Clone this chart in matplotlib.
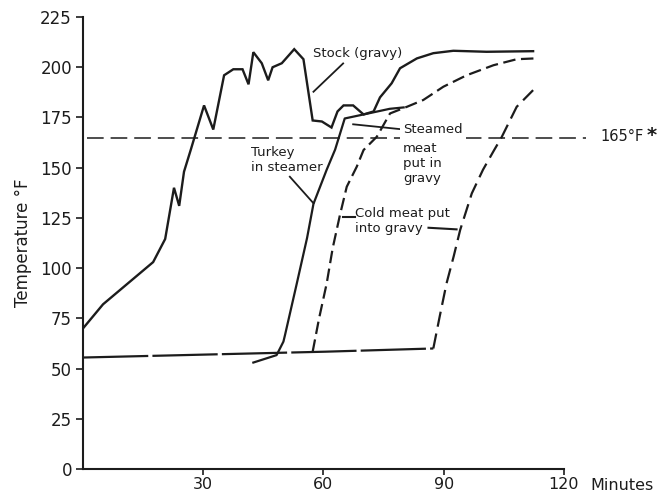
import matplotlib
matplotlib.use('Agg')
import matplotlib.pyplot as plt

plt.rcParams['font.family'] = 'DejaVu Sans'
plt.rcParams['lines.scale_dashes'] = False

INK = '#1c1c1c'

# stock (gravy) temperature, minutes vs deg F
stock_min = [0, 5, 17.5, 20.5, 22.7, 24, 25.2, 26.9, 30.2, 32.5, 35.2, 37.5, 39.8,
             41.3, 42.5, 44.6, 46.2, 47.3, 49.6, 52.7, 55, 57.3, 59.6, 62, 63.5,
             65, 67.4, 70, 72.5, 74.1, 77, 79.1, 83.3, 87.4, 92.4, 100.7, 112.3]
stock_temp = [70, 82, 103, 114.5, 140, 131, 148, 159, 181, 169, 196, 199, 199,
              191.5, 207.5, 202, 193.5, 200, 202, 209, 204, 173.5, 173, 170, 178,
              181, 181, 176.5, 178, 185, 192, 199.5, 204.4, 207, 208.2, 207.7, 208]

# turkey in steamer, then steamed meat in gravy
turkey_min = [42.5, 48.3, 50, 50.4, 53.3, 55.9, 57.5, 60.8, 62.9, 65.3, 70, 76.5, 80]
turkey_temp = [53, 56.7, 63.4, 66.7, 92, 115, 132, 149, 159, 174.5, 176.5, 179.3, 180]

# cold meat waiting
flat_min = [0, 60.4, 87.4]
flat_temp = [55.5, 58.4, 60]

# cold meat put into gravy at ~57 min
cold1_min = [57.3, 58.9, 60.8, 62.3, 64.1, 65.8, 68.3, 70, 73.3, 76.6, 80.8,
             84.9, 89.9, 95.7, 102.4, 108.2, 112.8]
cold1_temp = [58.4, 75, 92.4, 110, 126.4, 140.5, 150.5, 158.8, 165.4, 177, 180.3,
              183.7, 190.3, 196, 201, 204, 204.4]

# cold meat put into gravy at ~88 min
cold2_min = [87.4, 89, 90.7, 92.5, 94.1, 97, 99.8, 102.5, 104.4, 108.2, 112.3]
cold2_temp = [60, 76, 92.4, 106, 119, 137.2, 149, 158.5, 165, 180.3, 188.6]

safe_temp = 165
safe_span = [0.9, 125.6]

fig = plt.figure(figsize=(6.71, 4.95), dpi=100)
ax = fig.add_axes([0.1237, 0.0525, 0.7168, 0.9131])

ax.plot(stock_min, stock_temp, color=INK, lw=1.7, solid_joinstyle='miter')
ax.plot(turkey_min, turkey_temp, color=INK, lw=1.6)
ax.plot(flat_min, flat_temp, color=INK, lw=1.6, dashes=(47, 3))
ax.plot(cold1_min, cold1_temp, color=INK, lw=1.6, dashes=(9, 4))
ax.plot(cold2_min, cold2_temp, color=INK, lw=1.6, dashes=(11, 5))
ax.plot(safe_span, [safe_temp, safe_temp], color=INK, lw=1.1, dashes=(12, 5),
        clip_on=False)

# labels + pointer strokes
fs = 9.5
ax.text(57.4, 207, 'Stock (gravy)', fontsize=fs, va='center', color=INK)
ax.plot([64.9, 57.5], [201.9, 187.8], color=INK, lw=1.3)

ax.text(41.9, 153.8, 'Turkey\nin steamer', fontsize=fs, va='center', color=INK,
        linespacing=1.15)
ax.plot([51.6, 57.5], [145.5, 132.3], color=INK, lw=1.3)

ax.text(79.8, 169.2, 'Steamed', fontsize=fs, va='center', color=INK, zorder=5,
        bbox=dict(boxstyle='square,pad=0.25', fc='white', ec='none'))
ax.text(79.8, 152.3, 'meat\nput in\ngravy', fontsize=fs, va='center', color=INK,
        linespacing=1.2)
ax.plot([67.4, 79.1], [171.6, 169.2], color=INK, lw=1.3)

ax.text(67.9, 123.7, 'Cold meat put\ninto gravy', fontsize=fs, va='center',
        color=INK, linespacing=1.2)
ax.plot([64.9, 67.9], [125.6, 125.6], color=INK, lw=1.5)
ax.plot([86.2, 93.2], [120.1, 119.3], color=INK, lw=1.5)

ax.text(129, 165.3, '165°F', fontsize=10.5, va='center', color=INK, clip_on=False)
ax.text(140.6, 165.8, '*', fontsize=14, va='center', color=INK,
        fontweight='bold', clip_on=False)

ax.set_xlim(0, 120)
ax.set_ylim(0, 225)
ax.set_xticks([30, 60, 90, 120])
ax.set_yticks(range(0, 226, 25))
ax.tick_params(direction='out', length=5, width=1.2, labelsize=12, pad=3,
               colors=INK)
ax.tick_params(axis='x', length=4.5, pad=1.5, labelsize=11.5)
for s in ['top', 'right']:
    ax.spines[s].set_visible(False)
for s in ['left', 'bottom']:
    ax.spines[s].set_linewidth(1.5)
    ax.spines[s].set_color(INK)
ax.set_ylabel('Temperature °F', fontsize=12, color=INK, labelpad=6)
ax.text(126.5, -8.3, 'Minutes', fontsize=11.5, va='center', color=INK,
        clip_on=False)

plt.savefig('out.png', dpi=100)
